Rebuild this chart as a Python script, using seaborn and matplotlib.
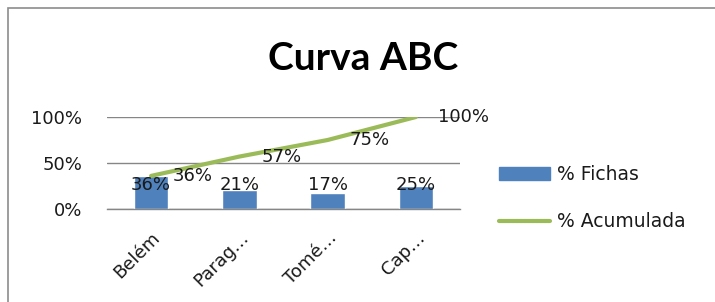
import matplotlib
matplotlib.use("Agg")
import matplotlib.pyplot as plt
import seaborn as sns
import pandas as pd
from matplotlib.patches import Rectangle, Patch
from matplotlib.lines import Line2D
from matplotlib.ticker import FixedLocator, PercentFormatter

categories = ["Belém", "Parag…", "Tomé…", "Cap…"]
pct_fichas = [0.36, 0.21, 0.17, 0.25]
pct_acumulada = [0.36, 0.57, 0.75, 1.00]
title = "Curva ABC"
series_names = ["% Fichas", "% Acumulada"]

BLUE = "#4F81BD"
GREEN = "#9BBB59"
GRID = "#868686"
TXT = "#1a1a1a"

sns.set_style("white")
plt.rcParams["font.family"] = ["DejaVu Sans"]
plt.rcParams["text.color"] = TXT
plt.rcParams["xtick.color"] = TXT
plt.rcParams["ytick.color"] = TXT

df = pd.DataFrame({"cat": categories, "fichas": pct_fichas, "acum": pct_acumulada})

fig = plt.figure(figsize=(7.15, 3.02), dpi=100)
ax = fig.add_axes([107 / 715, 1 - 209 / 302, (460 - 107) / 715, (209 - 117) / 302])

sns.barplot(data=df, x="cat", y="fichas", color=BLUE, width=0.39, saturation=1, ax=ax, zorder=2)
sns.lineplot(data=df, x="cat", y="acum", color=GREEN, lw=3, sort=False, ax=ax, zorder=3,
             solid_capstyle="round")

ax.set_xlim(-0.5, len(categories) - 0.5)
ax.set_ylim(0, 1)
ax.set_xlabel("")
ax.set_ylabel("")
ax.yaxis.set_major_locator(FixedLocator([0, 0.5, 1.0]))
ax.yaxis.set_major_formatter(PercentFormatter(1.0, decimals=0))
ax.grid(axis="y", color=GRID, lw=1, zorder=0)
ax.set_axisbelow(True)
for s in ["left", "right", "top"]:
    ax.spines[s].set_visible(False)
ax.spines["bottom"].set_color(GRID)
ax.spines["bottom"].set_linewidth(1)
ax.tick_params(axis="y", length=9, color=GRID, width=1, labelsize=13, pad=9, labelcolor=TXT)
ax.tick_params(axis="x", length=0, labelsize=13, pad=14, labelcolor=TXT)
ax.set_xticks(range(len(categories)))
ax.set_xticklabels(categories, rotation=45, ha="right", rotation_mode="anchor")
ax.set_xticks([i - 0.5 for i in range(len(categories) + 1)], minor=True)
ax.tick_params(axis="x", which="minor", length=7, color=GRID, width=1)

# data labels
for i, v in enumerate(pct_fichas):
    ax.annotate(f"{v:.0%}", (i, 0.26), ha="center", va="center", fontsize=13, color=TXT)
for i, v in enumerate(pct_acumulada):
    ax.annotate(f"{v:.0%}", (i, v), xytext=(22 * 0.72, 0), textcoords="offset points",
                ha="left", va="center", fontsize=13, color=TXT)

fig.text(363 / 715, 1 - 58 / 302, title, ha="center", va="center", fontsize=28,
         fontweight="bold", family=["Lato", "DejaVu Sans"], color="black")

handles = [Patch(facecolor=BLUE, edgecolor=BLUE),
           Line2D([0], [0], color=GREEN, lw=3)]
fig.legend(handles, series_names, loc="center left", bbox_to_anchor=(492 / 715, 1 - 198 / 302),
           frameon=False, fontsize=13.5, labelspacing=1.5, handlelength=2.7, handletextpad=0.35,
           borderaxespad=0)

fig.add_artist(Rectangle((8 / 715, -0.05), 1.0, 1 - 8 / 302 + 0.05, transform=fig.transFigure,
                         fill=False, edgecolor="#8c8c8c", lw=1.2))

fig.savefig("out.png", dpi=100)
